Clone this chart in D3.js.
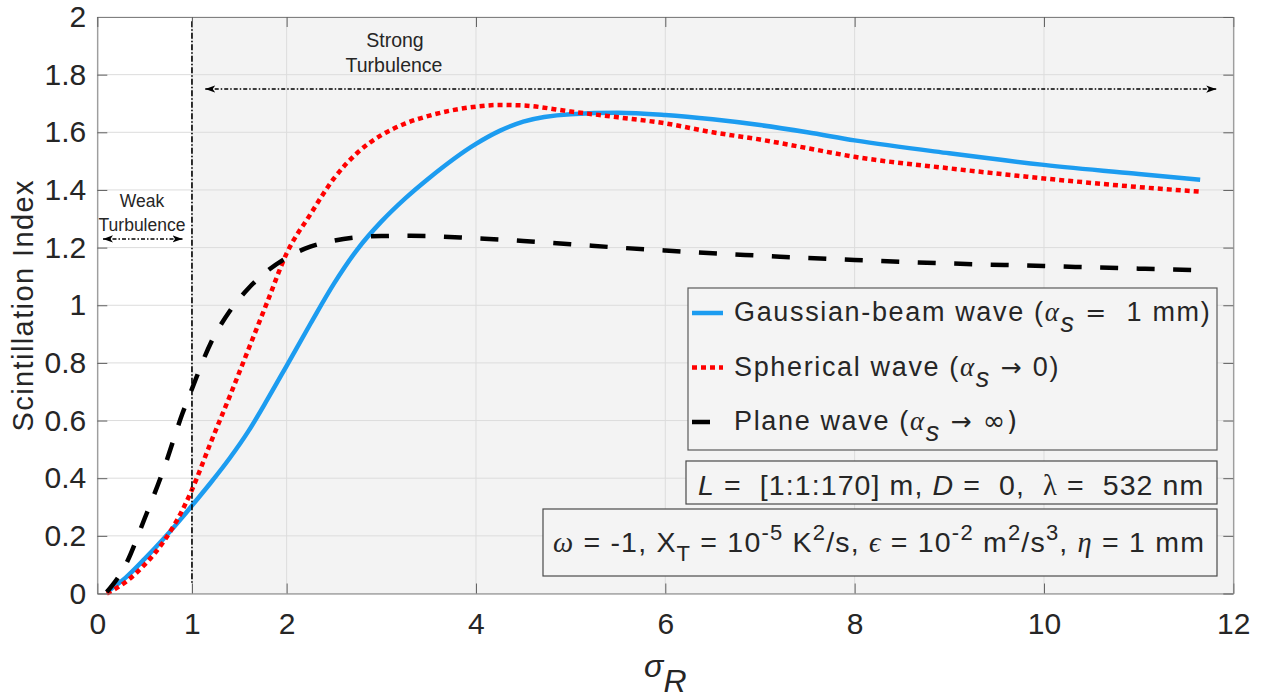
<!DOCTYPE html>
<html>
<head>
<meta charset="utf-8">
<script src="https://cdn.jsdelivr.net/npm/d3@7"></script>
<style>
  body { margin: 0; background: #fff; }
  svg text { font-family: "Liberation Sans", Arial, sans-serif; fill: #262626; white-space: pre; }
</style>
</head>
<body>
<svg class="chart" width="1268" height="698"></svg>
<script>
// sigma_R values and the three scintillation curves
var sigmaR        = [0.1, 0.3, 0.5, 0.7, 0.9, 1.0, 1.2, 1.4, 1.6, 1.8, 2.0, 2.25, 2.5, 2.75, 3.0, 3.25, 3.5, 4.0, 4.25, 4.5, 5.0, 5.5, 6.0, 6.5, 7.0, 7.5, 8.0, 9.0, 10.0, 11.0, 11.65];
var gaussianBeam  = [0.005, 0.055, 0.12, 0.19, 0.265, 0.305, 0.385, 0.47, 0.565, 0.675, 0.79, 0.935, 1.075, 1.195, 1.29, 1.37, 1.44, 1.56, 1.605, 1.637, 1.663, 1.668, 1.66, 1.645, 1.625, 1.60, 1.572, 1.527, 1.487, 1.455, 1.435];
var sphericalWave = [0.0, 0.04, 0.10, 0.18, 0.29, 0.36, 0.525, 0.685, 0.85, 1.015, 1.18, 1.315, 1.44, 1.53, 1.59, 1.63, 1.657, 1.689, 1.695, 1.693, 1.672, 1.652, 1.631, 1.60, 1.575, 1.545, 1.515, 1.475, 1.44, 1.41, 1.394];
var planeWave     = [0.005, 0.10, 0.26, 0.43, 0.625, 0.71, 0.87, 0.98, 1.06, 1.12, 1.165, 1.203, 1.224, 1.236, 1.24, 1.241, 1.240, 1.232, 1.228, 1.223, 1.212, 1.20, 1.19, 1.18, 1.172, 1.164, 1.157, 1.145, 1.136, 1.127, 1.122];

var xTicks = [0, 1, 2, 4, 6, 8, 10, 12];
var yTicks = [0, 0.2, 0.4, 0.6, 0.8, 1, 1.2, 1.4, 1.6, 1.8, 2];

// regime markers (sigma_R = 1 boundary)
var weakStrongBorder = 1;
var strongArrow = [1.14, 11.82], strongArrowY = 1.75;
var weakArrow = [0.06, 0.90], weakArrowY = 1.23;

var chart = d3.select("svg.chart"),
    pLeft = 97.3, pRight = 1233.3, pTop = 17, pBottom = 593.5,
    x = d3.scaleLinear().domain([0, 12]).range([pLeft, pRight]),
    y = d3.scaleLinear().domain([0, 2]).range([pBottom, pTop]);

var series = [
  { name: "gauss", values: gaussianBeam,  color: "#1c9cf0", width: 4.5, dash: null },
  { name: "sph",   values: sphericalWave, color: "#ff0000", width: 4.5, dash: "5 4" },
  { name: "plane", values: planeWave,     color: "#000000", width: 4.5, dash: "18 18.5" }
];

// arrow heads
var defs = chart.append("defs");
defs.append("marker")
  .attr("id", "head")
  .attr("viewBox", "0 -5 10 10")
  .attr("refX", 10).attr("refY", 0)
  .attr("markerWidth", 10).attr("markerHeight", 10)
  .attr("markerUnits", "userSpaceOnUse")
  .attr("orient", "auto-start-reverse")
  .append("path")
  .attr("d", "M0,-3.6L10,0L0,3.6L2.5,0Z")
  .attr("fill", "#000");

// shaded strong turbulence region
chart.append("rect")
  .attr("x", x(weakStrongBorder)).attr("y", y(2))
  .attr("width", x(12) - x(weakStrongBorder)).attr("height", y(0) - y(2))
  .attr("fill", "#f3f3f3");

// grid
var grid = chart.append("g").attr("stroke", "#dcdcdc").attr("stroke-width", 1);
grid.selectAll("line.gx").data(xTicks).enter().append("line")
  .attr("x1", function(d) { return x(d); }).attr("x2", function(d) { return x(d); })
  .attr("y1", y(0)).attr("y2", y(2));
grid.selectAll("line.gy").data(yTicks).enter().append("line")
  .attr("x1", x(0)).attr("x2", x(12))
  .attr("y1", function(d) { return y(d); }).attr("y2", function(d) { return y(d); });

// curves
var line = d3.line()
  .x(function(d) { return x(d[0]); })
  .y(function(d) { return y(d[1]); })
  .curve(d3.curveMonotoneX);

series.forEach(function(s) {
  chart.append("path")
    .datum(sigmaR.map(function(v, i) { return [v, s.values[i]]; }))
    .attr("fill", "none")
    .attr("stroke", s.color)
    .attr("stroke-width", s.width)
    .attr("stroke-dasharray", s.dash)
    .attr("d", line);
});

// sigma_R = 1 boundary
chart.append("line")
  .attr("x1", x(weakStrongBorder)).attr("x2", x(weakStrongBorder))
  .attr("y1", y(1.985)).attr("y2", y(0.035))
  .attr("stroke", "#000").attr("stroke-width", 1.6)
  .attr("stroke-dasharray", "6 2 1.5 2");

// regime arrows
[[strongArrow, strongArrowY], [weakArrow, weakArrowY]].forEach(function(a) {
  chart.append("line")
    .attr("x1", x(a[0][0])).attr("x2", x(a[0][1]))
    .attr("y1", y(a[1])).attr("y2", y(a[1]))
    .attr("stroke", "#000").attr("stroke-width", 1.4)
    .attr("stroke-dasharray", "4 2 1.5 2")
    .attr("marker-start", "url(#head)")
    .attr("marker-end", "url(#head)");
});

chart.append("text").attr("x", 395).attr("y", 47).attr("text-anchor", "middle")
  .style("font-size", "19.5px").attr("fill", "#111").text("Strong");
chart.append("text").attr("x", 394).attr("y", 72).attr("text-anchor", "middle")
  .style("font-size", "19.5px").attr("fill", "#111").text("Turbulence");
chart.append("text").attr("x", 142).attr("y", 207).attr("text-anchor", "middle")
  .style("font-size", "17.5px").attr("fill", "#111").text("Weak");
chart.append("text").attr("x", 142).attr("y", 231).attr("text-anchor", "middle")
  .style("font-size", "17.5px").attr("fill", "#111").text("Turbulence");

// axes (ticks inside, box on all sides)
var xAxis = d3.axisBottom(x).tickValues(xTicks).tickSizeInner(-10).tickSizeOuter(0).tickPadding(19.5).tickFormat(d3.format("~g"));
var yAxis = d3.axisLeft(y).tickValues(yTicks).tickSizeInner(-10).tickSizeOuter(0).tickPadding(11).tickFormat(d3.format("~g"));
var xTop = d3.axisTop(x).tickValues(xTicks).tickSizeInner(-10).tickSizeOuter(0).tickFormat("");
var yRight = d3.axisRight(y).tickValues(yTicks).tickSizeInner(-10).tickSizeOuter(0).tickFormat("");

chart.append("g").attr("id", "xAxisG").attr("transform", "translate(0," + pBottom + ")").call(xAxis);
chart.append("g").attr("id", "yAxisG").attr("transform", "translate(" + pLeft + ",0)").call(yAxis);
chart.append("g").attr("transform", "translate(0," + pTop + ")").call(xTop);
chart.append("g").attr("transform", "translate(" + pRight + ",0)").call(yRight);

chart.selectAll(".domain").attr("stroke", "#808080");
chart.selectAll(".tick line").attr("stroke", "#606060");
chart.selectAll(".tick text").style("font-size", "30px")
  .style("font-family", "'Liberation Sans', Arial, sans-serif").attr("fill", "#262626");

// axis labels
chart.append("text")
  .attr("transform", "translate(33," + ((pTop + pBottom) / 2) + ") rotate(-90)")
  .attr("text-anchor", "middle")
  .style("font-size", "29px").style("letter-spacing", "1.4px")
  .text("Scintillation Index");

var xl = chart.append("text").attr("x", (pLeft + pRight) / 2).attr("y", 677)
  .attr("text-anchor", "middle").style("font-size", "32px").style("font-style", "italic");
xl.append("tspan").text("\u03c3");
xl.append("tspan").attr("dy", 15).text("R");

// legend
var legX = 688, legY = 288, legW = 529, legH = 162;
var leg = chart.append("g");
leg.append("rect").attr("x", legX).attr("y", legY).attr("width", legW).attr("height", legH)
  .attr("fill", "#f4f4f4").attr("stroke", "#5a5a5a").attr("stroke-width", 1.2);

var legRows = [
  { s: series[0], pre: "Gaussian-beam wave (", op: " = ",      post: " 1 mm)" },
  { s: series[1], pre: "Spherical wave (",     op: " \u2192 ", post: "0)" },
  { s: series[2], pre: "Plane wave (",         op: " \u2192 ", post: "\u221e)" }
];
legRows.forEach(function(r, i) {
  var cy = legY + 25 + i * 54.5;
  leg.append("line")
    .attr("x1", legX + 4).attr("x2", legX + 35)
    .attr("y1", cy).attr("y2", cy)
    .attr("stroke", r.s.color).attr("stroke-width", r.s.width)
    .attr("stroke-dasharray", r.s.dash);
  var t = leg.append("text").attr("x", legX + 46).attr("y", cy + 8)
    .style("font-size", "27px").style("letter-spacing", "1.65px");
  t.append("tspan").text(r.pre);
  t.append("tspan").style("font-family", "'Liberation Serif', serif").style("font-style", "italic").text("\u03b1");
  t.append("tspan").attr("dy", 11).style("font-style", "italic").text("s");
  t.append("tspan").attr("dy", -11).style("font-family", "'DejaVu Sans', sans-serif").style("font-size", "25px").text(r.op);
  t.append("tspan").style("font-family", i === 2 ? "'DejaVu Sans', sans-serif" : null).text(r.post);
});

// parameter boxes
chart.append("rect").attr("x", 686).attr("y", 461).attr("width", 531).attr("height", 43)
  .attr("fill", "#f4f4f4").attr("stroke", "#4a4a4a").attr("stroke-width", 1.2);
var p1 = chart.append("text").attr("x", 698).attr("y", 495)
  .style("font-size", "28.5px").style("letter-spacing", "1.1px");
p1.append("tspan").style("font-style", "italic").text("L");
p1.append("tspan").text(" =  [1:1:170] m, ");
p1.append("tspan").style("font-style", "italic").text("D");
p1.append("tspan").text(" =  0,  ");
p1.append("tspan").style("font-family", "'Liberation Serif', serif").text("\u03bb");
p1.append("tspan").text(" =  532 nm");

chart.append("rect").attr("x", 543).attr("y", 509).attr("width", 674).attr("height", 67)
  .attr("fill", "#f4f4f4").attr("stroke", "#4a4a4a").attr("stroke-width", 1.2);
var p2 = chart.append("text").attr("x", 553).attr("y", 552)
  .style("font-size", "28.5px").style("letter-spacing", "1.2px");
var serifI = function(sel) { return sel.style("font-family", "'Liberation Serif', serif").style("font-style", "italic"); };
serifI(p2.append("tspan")).text("\u03c9");
p2.append("tspan").text(" = -1, X");
p2.append("tspan").attr("dy", 9).style("font-size", "22px").text("T");
p2.append("tspan").attr("dy", -9).text(" = 10");
p2.append("tspan").attr("dy", -12).style("font-size", "22px").text("-5");
p2.append("tspan").attr("dy", 12).text(" K");
p2.append("tspan").attr("dy", -12).style("font-size", "22px").text("2");
p2.append("tspan").attr("dy", 12).text("/s, ");
serifI(p2.append("tspan")).text("\u03f5");
p2.append("tspan").text(" = 10");
p2.append("tspan").attr("dy", -12).style("font-size", "22px").text("-2");
p2.append("tspan").attr("dy", 12).text(" m");
p2.append("tspan").attr("dy", -12).style("font-size", "22px").text("2");
p2.append("tspan").attr("dy", 12).text("/s");
p2.append("tspan").attr("dy", -12).style("font-size", "22px").text("3");
p2.append("tspan").attr("dy", 12).text(", ");
serifI(p2.append("tspan")).text("\u03b7");
p2.append("tspan").text(" = 1 mm");
</script>
</body>
</html>
